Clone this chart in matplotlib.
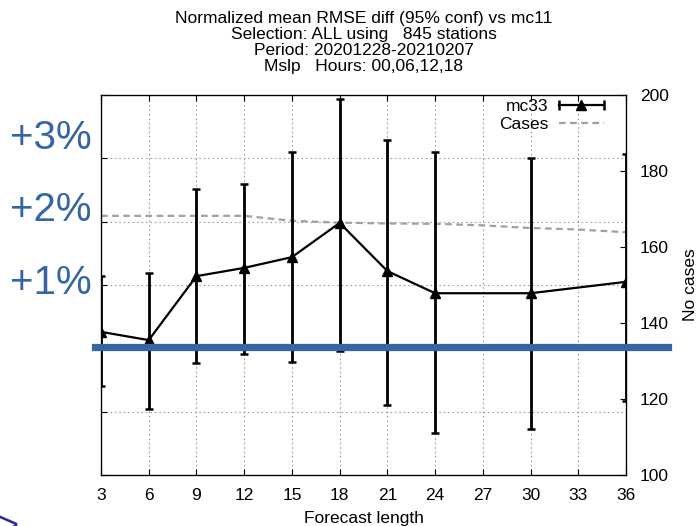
import matplotlib
matplotlib.use("Agg")
import matplotlib.pyplot as plt
from matplotlib.lines import Line2D
from matplotlib.legend_handler import HandlerLine2D, HandlerTuple

plt.rcParams['font.family'] = ['Liberation Sans', 'DejaVu Sans']

# mc33 normalized RMSE difference (%) with 95% confidence limits
steps = [3, 6, 9, 12, 15, 18, 21, 24, 30, 36]
mc33_mean = [0.26, 0.13, 1.14, 1.27, 1.44, 1.98, 1.22, 0.87, 0.87, 1.05]
mc33_low = [-0.60, -0.96, -0.23, -0.09, -0.22, -0.04, -0.90, -1.34, -1.27, -0.83]
mc33_high = [1.15, 1.19, 2.52, 2.59, 3.10, 3.94, 3.29, 3.10, 3.00, 3.07]

# number of cases (right axis)
case_steps = [3, 6, 9, 12, 15, 18, 21, 24, 27, 30, 33, 36]
cases = [168.2, 168.2, 168.2, 168.2, 166.9, 166.4, 166.2, 166.1, 165.7, 165.0, 164.6, 163.9]

xticks = list(range(3, 37, 3))
left_ticks = [-2, -1, 0, 1, 2, 3, 4]
right_ticks = [100, 120, 140, 160, 180, 200]
side_labels = ['+3%', '+2%', '+1%']
side_label_y = [138, 210, 283]

title = ("Normalized mean RMSE diff (95% conf) vs mc11\n"
         "Selection: ALL using   845 stations\n"
         "Period: 20201228-20210207\n"
         "Mslp   Hours: 00,06,12,18")

blue = '#3465a4'
gridc = '#a0a0a0'
fs = 12.5

fig = plt.figure(figsize=(7, 5.26), dpi=100)
ax = fig.add_axes([101/700, 1 - 475/526, 525/700, 380/526])
ax2 = ax.twinx()

ax.set_xlim(3, 36)
ax.set_ylim(-2, 4)
ax2.set_ylim(100, 200)

# cases on right axis
cases_line, = ax2.plot(case_steps, cases, color=gridc, lw=1.6, ls=(0, (3, 2)), zorder=1)

# mc33 errorbars
ax.set_zorder(ax2.get_zorder() + 1)
ax.patch.set_visible(False)
yerr = [[m - lo for m, lo in zip(mc33_mean, mc33_low)],
        [hi - m for m, hi in zip(mc33_mean, mc33_high)]]
ax.errorbar(steps, mc33_mean, yerr=yerr, color='black', lw=1.6, elinewidth=2,
            capsize=2.6, capthick=1.8, marker='^', markersize=7, zorder=3)

# axes styling
ax.set_xticks(xticks)
ax.set_xticklabels([str(v) for v in xticks], fontsize=fs)
ax.set_yticks(left_ticks)
ax.set_yticklabels([])
ax.tick_params(axis='x', direction='in', length=4, top=True, pad=9, width=0.8)
ax.tick_params(axis='y', direction='in', length=4, width=0.8)
ax.grid(True, color=gridc, ls=(0, (1.5, 2.5)), lw=0.8)
ax2.set_yticks(right_ticks)
ax2.set_yticklabels([str(v) for v in right_ticks], fontsize=fs)
ax2.tick_params(axis='y', direction='in', length=4, pad=10, width=0.8)
for sp in ax.spines.values():
    sp.set_linewidth(0.9)

ax.set_xlabel('Forecast length', fontsize=fs, labelpad=6)
ax2.set_ylabel('No cases', fontsize=fs, labelpad=10)
ax.set_title(title, fontsize=fs, linespacing=1.1, pad=17)

# legend, gnuplot style (text left of sample)
caps = Line2D([], [], color='black', lw=1.6, marker='|', markersize=7, markeredgewidth=1.8)
tri = Line2D([], [], color='black', ls='none', marker='^', markersize=7)
ax.legend([(caps, tri), cases_line], ['mc33', 'Cases'],
          handler_map={tuple: HandlerTuple(ndivide=1),
                       caps: HandlerLine2D(numpoints=2),
                       cases_line: HandlerLine2D(numpoints=2)},
          loc='upper right', bbox_to_anchor=(0.968, 0.99), markerfirst=False,
          frameon=False, fontsize=fs, handlelength=3.2, handletextpad=0.3,
          borderpad=0, borderaxespad=0, labelspacing=0.15, numpoints=1)

# overlay annotations
fig.add_artist(Line2D([95/700, 668/700], [1 - 347/526, 1 - 347/526],
                      color=blue, lw=5.2, zorder=10))
for lab, yp in zip(side_labels, side_label_y):
    fig.text(51/700, 1 - yp/526, lab, color=blue, fontsize=29,
             ha='center', va='center')
fig.text(-0.004, -0.035, '>', color='#2e2e99', fontsize=26, ha='left', va='bottom')

fig.savefig('out.png', dpi=100)
